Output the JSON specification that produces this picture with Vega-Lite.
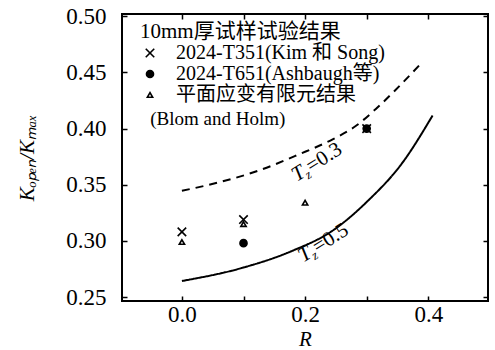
{
  "$schema": "https://vega.github.io/schema/vega-lite/v6.json",
  "width": 366,
  "height": 287,
  "autosize": "none",
  "padding": {"left": 122, "top": 14, "right": 7, "bottom": 49},
  "background": "white",
  "config": {
    "view": {"stroke": "black", "strokeWidth": 2},
    "font": "Liberation Serif, Noto Sans CJK SC",
    "axis": {
      "domain": false,
      "grid": false,
      "tickColor": "black",
      "tickSize": -5,
      "tickWidth": 1.5,
      "labelFont": "Liberation Serif",
      "labelFontSize": 23,
      "labelColor": "black",
      "titleColor": "black",
      "titleFont": "Liberation Serif",
      "titleFontWeight": "normal",
      "titleFontSize": 21
    },
    "legend": {
      "titleFont": "Liberation Serif, Noto Sans CJK SC",
      "labelFont": "Liberation Serif, Noto Sans CJK SC"
    }
  },
  "datasets": {
    "curves": [
      {"curve": "0.3", "R": 0.0, "K": 0.3446},
      {"curve": "0.3", "R": 0.059, "K": 0.352},
      {"curve": "0.3", "R": 0.124, "K": 0.3625},
      {"curve": "0.3", "R": 0.189, "K": 0.3768},
      {"curve": "0.3", "R": 0.244, "K": 0.3902},
      {"curve": "0.3", "R": 0.281, "K": 0.4018},
      {"curve": "0.3", "R": 0.314, "K": 0.417},
      {"curve": "0.3", "R": 0.346, "K": 0.4339},
      {"curve": "0.3", "R": 0.39, "K": 0.459},
      {"curve": "0.5", "R": 0.0, "K": 0.2643},
      {"curve": "0.5", "R": 0.098, "K": 0.276},
      {"curve": "0.5", "R": 0.179, "K": 0.2911},
      {"curve": "0.5", "R": 0.244, "K": 0.3089},
      {"curve": "0.5", "R": 0.302, "K": 0.3357},
      {"curve": "0.5", "R": 0.357, "K": 0.3688},
      {"curve": "0.5", "R": 0.407, "K": 0.4116}
    ],
    "points": [
      {"series": "2024-T351(Kim 和 Song)", "R": 0.0, "K": 0.308},
      {"series": "2024-T351(Kim 和 Song)", "R": 0.1, "K": 0.319},
      {"series": "2024-T351(Kim 和 Song)", "R": 0.3, "K": 0.4},
      {"series": "2024-T651(Ashbaugh等)", "R": 0.1, "K": 0.298},
      {"series": "2024-T651(Ashbaugh等)", "R": 0.3, "K": 0.4},
      {"series": "平面应变有限元结果", "R": 0.0, "K": 0.299},
      {"series": "平面应变有限元结果", "R": 0.1, "K": 0.315},
      {"series": "平面应变有限元结果", "R": 0.2, "K": 0.334}
    ],
    "labels": [
      {"curve": "=0.3", "R": 0.1865, "K": 0.3525},
      {"curve": "=0.5", "R": 0.197, "K": 0.2806}
    ]
  },
  "layer": [
    {
      "data": {"name": "curves"},
      "mark": {"type": "line", "interpolate": "monotone", "color": "black", "strokeWidth": 2},
      "encoding": {
        "x": {
          "field": "R", "type": "quantitative",
          "scale": {"domain": [-0.0973, 0.497], "nice": false, "zero": false},
          "axis": {
            "orient": "bottom", "title": "R", "titleFontStyle": "italic",
            "values": [0, 0.1, 0.2, 0.3, 0.4],
            "labelExpr": "round(datum.value*10) % 2 == 0 ? format(datum.value, '.1f') : ''",
            "labelPadding": 7, "titlePadding": 2
          }
        },
        "y": {
          "field": "K", "type": "quantitative",
          "scale": {"domain": [0.2465, 0.502], "nice": false, "zero": false},
          "axis": {
            "orient": "left", "title": "Kₒₚₑₙ/Kₘₐₓ", "titleFontStyle": "italic",
            "values": [0.25, 0.3, 0.35, 0.4, 0.45, 0.5],
            "format": ".2f",
            "labelPadding": 21, "titlePadding": 28
          }
        },
        "strokeDash": {
          "field": "curve", "type": "nominal",
          "scale": {"domain": ["0.3", "0.5"], "range": [[8, 6], [1, 0]]},
          "legend": null
        }
      }
    },
    {
      "data": {"name": "curves"},
      "mark": {"type": "point", "opacity": 0},
      "encoding": {
        "x": {
          "field": "R", "type": "quantitative",
          "axis": {"orient": "top", "title": null, "labels": false, "values": [0, 0.1, 0.2, 0.3, 0.4]}
        },
        "y": {
          "field": "K", "type": "quantitative",
          "axis": {"orient": "right", "title": null, "labels": false, "values": [0.25, 0.3, 0.35, 0.4, 0.45, 0.5]}
        }
      }
    },
    {
      "data": {"name": "points"},
      "mark": {"type": "point", "stroke": "black", "strokeWidth": 1.6, "opacity": 1},
      "encoding": {
        "x": {"field": "R", "type": "quantitative", "axis": null},
        "y": {"field": "K", "type": "quantitative", "axis": null},
        "shape": {
          "field": "series", "type": "nominal",
          "scale": {
            "domain": ["2024-T351(Kim 和 Song)", "2024-T651(Ashbaugh等)", "平面应变有限元结果"],
            "range": ["M-1,-1L1,1M-1,1L1,-1", "circle", "triangle-up"]
          },
          "legend": {
            "title": "  10mm厚试样试验结果",
            "orient": "none", "legendX": 18, "legendY": 7,
            "padding": 0, "titleFontSize": 21, "titleFontWeight": "normal",
            "titlePadding": 1, "titleLimit": 400, "labelFontSize": 20, "labelOffset": 16,
            "rowPadding": 1, "symbolStrokeWidth": 1.6, "symbolStrokeColor": "black",
            "labelLimit": 400
          }
        },
        "fill": {
          "field": "series", "type": "nominal",
          "scale": {
            "domain": ["2024-T351(Kim 和 Song)", "2024-T651(Ashbaugh等)", "平面应变有限元结果"],
            "range": ["transparent", "black", "white"]
          },
          "legend": {
            "title": "  10mm厚试样试验结果",
            "orient": "none", "legendX": 18, "legendY": 7
          }
        },
        "size": {
          "field": "series", "type": "nominal",
          "scale": {
            "domain": ["2024-T351(Kim 和 Song)", "2024-T651(Ashbaugh等)", "平面应变有限元结果"],
            "range": [72, 28, 45]
          },
          "legend": {
            "title": "  10mm厚试样试验结果",
            "orient": "none", "legendX": 18, "legendY": 7
          }
        }
      }
    },
    {
      "data": {"values": [{"note": "(Blom and Holm)"}]},
      "mark": {"type": "text", "align": "left", "baseline": "middle", "fontSize": 19, "font": "Liberation Serif", "fill": "black"},
      "encoding": {
        "x": {"datum": -0.0514, "type": "quantitative", "axis": null},
        "y": {"datum": 0.4085, "type": "quantitative", "axis": null},
        "text": {"field": "note", "type": "nominal"}
      }
    },
    {
      "data": {"name": "labels"},
      "mark": {"type": "text", "align": "left", "baseline": "alphabetic", "angle": -32, "fontSize": 21, "fontStyle": "italic", "font": "Liberation Serif", "fill": "black"},
      "encoding": {
        "x": {"field": "R", "type": "quantitative", "axis": null},
        "y": {"field": "K", "type": "quantitative", "axis": null},
        "text": {"value": "T"}
      }
    },
    {
      "data": {"name": "labels"},
      "mark": {"type": "text", "align": "left", "baseline": "alphabetic", "angle": -32, "dx": 11, "dy": 4, "fontSize": 13, "fontStyle": "italic", "font": "Liberation Serif", "fill": "black"},
      "encoding": {
        "x": {"field": "R", "type": "quantitative", "axis": null},
        "y": {"field": "K", "type": "quantitative", "axis": null},
        "text": {"value": "z"}
      }
    },
    {
      "data": {"name": "labels"},
      "mark": {"type": "text", "align": "left", "baseline": "alphabetic", "angle": -32, "dx": 17, "fontSize": 21, "font": "Liberation Serif", "fill": "black"},
      "encoding": {
        "x": {"field": "R", "type": "quantitative", "axis": null},
        "y": {"field": "K", "type": "quantitative", "axis": null},
        "text": {"field": "curve", "type": "nominal"}
      }
    }
  ],
  "resolve": {"axis": {"x": "independent", "y": "independent"}}
}
